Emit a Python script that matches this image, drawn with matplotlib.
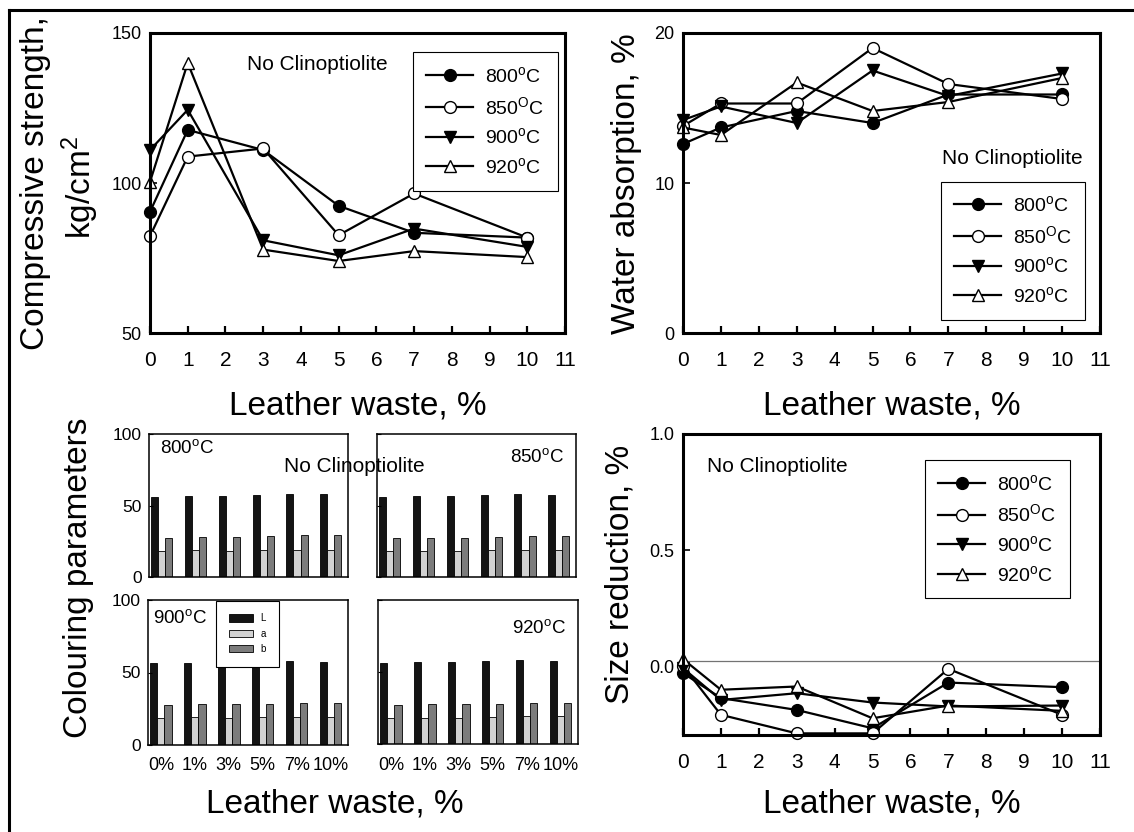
import matplotlib
matplotlib.use("Agg")
import matplotlib.pyplot as plt
import numpy as np
from matplotlib.lines import Line2D

plt.rcParams["font.family"] = ["Liberation Sans", "DejaVu Sans"]
plt.rcParams["mathtext.fontset"] = "custom"
plt.rcParams["mathtext.rm"] = "Liberation Sans"
plt.rcParams["mathtext.it"] = "Liberation Sans:italic"

W, H = 1134, 832

# ---------------------------------------------------------------------------
# Donnees
# ---------------------------------------------------------------------------
waste = [0, 1, 3, 5, 7, 10]
temp_labels = ["800$^{\\rm o}$C", "850$^{\\rm O}$C", "900$^{\\rm o}$C", "920$^{\\rm o}$C"]

strength_800 = [90.4, 117.7, 111.0, 92.4, 83.4, 81.8]
strength_850 = [82.3, 108.8, 111.5, 82.6, 96.5, 81.8]
strength_900 = [111.0, 124.4, 80.9, 75.9, 84.8, 78.7]
strength_920 = [100.4, 140.0, 77.8, 74.0, 77.3, 75.3]

absorb_800 = [12.6, 13.7, 14.8, 14.0, 15.9, 15.9]
absorb_850 = [13.8, 15.3, 15.3, 19.0, 16.6, 15.6]
absorb_900 = [14.2, 15.1, 14.0, 17.5, 15.8, 17.3]
absorb_920 = [13.7, 13.2, 16.7, 14.8, 15.4, 17.0]

shrink_800 = [-0.03, -0.138, -0.189, -0.268, -0.071, -0.091]
shrink_850 = [0.0, -0.21, -0.29, -0.29, -0.012, -0.21]
shrink_900 = [-0.009, -0.146, -0.117, -0.157, -0.174, -0.17]
shrink_920 = [0.03, -0.102, -0.088, -0.225, -0.17, -0.193]
zero_line = 0.02

bar_ticks = ["0%", "1%", "3%", "5%", "7%", "10%"]
bar_temps = ["800$^{\\rm o}$C", "850$^{\\rm o}$C", "900$^{\\rm o}$C", "920$^{\\rm o}$C"]
L_800 = [55.8, 56.7, 56.5, 57.2, 57.9, 57.7]
a_800 = [17.9, 18.6, 17.9, 18.6, 19.1, 19.1]
b_800 = [27.2, 27.9, 27.9, 28.4, 29.1, 29.1]
L_850 = [56.1, 56.8, 56.5, 57.2, 57.9, 57.5]
a_850 = [18.0, 18.5, 18.2, 18.9, 18.9, 18.9]
b_850 = [27.1, 27.6, 27.6, 28.0, 28.7, 28.5]
L_900 = [56.3, 56.8, 56.8, 57.2, 57.9, 57.5]
a_900 = [18.4, 19.1, 18.6, 19.3, 19.3, 19.3]
b_900 = [27.6, 28.0, 28.0, 28.5, 29.2, 29.0]
L_920 = [56.3, 57.0, 56.7, 57.4, 58.1, 57.9]
a_920 = [17.9, 18.4, 18.1, 18.8, 19.1, 19.1]
b_920 = [27.2, 27.7, 27.7, 28.1, 28.8, 28.6]

STYLES = [
    dict(marker="o", markerfacecolor="black"),
    dict(marker="o", markerfacecolor="white"),
    dict(marker="v", markerfacecolor="black"),
    dict(marker="^", markerfacecolor="white"),
]

fig = plt.figure(figsize=(W / 100, H / 100), dpi=100)


def px_axes(x0, y0, x1, y1):
    return fig.add_axes([x0 / W, 1 - y1 / H, (x1 - x0) / W, (y1 - y0) / H])


def ftext(x, y, s, **kw):
    fig.text(x / W, 1 - y / H, s, **kw)


def line_panel(box, series, ylim, yticks, yticklabels, leg_anchor):
    ax = px_axes(*box)
    for ys, lab, st in zip(series, temp_labels, STYLES):
        ax.plot(waste, ys, color="black", lw=1.6, markersize=8.5,
                markeredgecolor="black", markeredgewidth=1.0, label=lab,
                clip_on=False, **st)
    ax.set_xlim(0, 11)
    ax.set_ylim(*ylim)
    ax.set_xticks(range(12))
    ax.set_yticks(yticks)
    ax.set_yticklabels(yticklabels)
    for side in ("top", "right", "bottom", "left"):
        ax.spines[side].set_linewidth(2.2)
    ax.tick_params(axis="x", direction="in", length=5, width=1.6,
                   labelsize=15, pad=13)
    ax.tick_params(axis="y", direction="in", length=5, width=1.2,
                   labelsize=13, pad=6)
    leg = ax.legend(loc="upper right", bbox_to_anchor=leg_anchor, fontsize=14,
                    frameon=True, fancybox=False, edgecolor="black",
                    framealpha=1, handlelength=2.4, handletextpad=0.6,
                    labelspacing=0.5, borderpad=0.7, borderaxespad=0)
    leg.get_frame().set_linewidth(0.8)
    return ax


# ---------------------------------------------------------------------------
# Panneaux en lignes
# ---------------------------------------------------------------------------
line_panel((150, 33, 565, 333),
           [strength_800, strength_850, strength_900, strength_920],
           (50, 150), [50, 100, 150], ["50", "100", "150"], (0.982, 0.935))

line_panel((683, 33, 1100, 333),
           [absorb_800, absorb_850, absorb_900, absorb_920],
           (0, 20), [0, 10, 20], ["0", "10", "20"], (0.965, 0.505))

ax_sr = line_panel((683, 434, 1100, 735),
                   [shrink_800, shrink_850, shrink_900, shrink_920],
                   (-0.297, 1.0), [0, 0.5, 1.0], ["0.0", "0.5", "1.0"],
                   (0.927, 0.913))
ax_sr.axhline(zero_line, color="0.45", lw=0.9, zorder=0)

# ---------------------------------------------------------------------------
# Panneaux en barres (parametres de couleur)
# ---------------------------------------------------------------------------
bar_sets = [(L_800, a_800, b_800), (L_850, a_850, b_850),
            (L_900, a_900, b_900), (L_920, a_920, b_920)]
bar_boxes = [(149, 434, 348, 577), (377, 434, 576, 577),
             (148, 600, 348, 745), (378, 600, 578, 744)]
bar_colors = ["#141414", "#d2d2d2", "#7c7c7c"]
width = 0.21
pos = np.arange(len(bar_ticks))
bar_axes = []
for k, (vals, box) in enumerate(zip(bar_sets, bar_boxes)):
    ax = px_axes(*box)
    for j, (v, c, lab) in enumerate(zip(vals, bar_colors, ["L", "a", "b"])):
        ax.bar(pos + (j - 1) * width, v, width, color=c, edgecolor="black",
               linewidth=0.6, label=lab)
    ax.set_xlim(-0.38, 5.51)
    ax.set_ylim(0, 100)
    ax.set_yticks([0, 50, 100])
    ax.set_xticks(pos)
    for sp in ax.spines.values():
        sp.set_linewidth(1.1)
    ax.tick_params(axis="x", length=0, labelsize=13, pad=9)
    ax.tick_params(axis="y", direction="in", length=3, width=0.8,
                   labelsize=12.5, pad=5)
    if k % 2 == 1:
        ax.set_yticklabels([])
    if k < 2:
        ax.set_xticklabels([])
    else:
        ax.set_xticklabels(bar_ticks)
    bar_axes.append(ax)

leg = bar_axes[2].legend(loc="upper left", bbox_to_anchor=(0.34, 0.995),
                         fontsize=7, frameon=True, fancybox=False,
                         edgecolor="black", framealpha=1, handlelength=2.5,
                         handleheight=0.75, labelspacing=0.55,
                         handletextpad=0.8, borderpad=1.3, borderaxespad=0)
leg.get_frame().set_linewidth(0.8)

ftext(160, 448, bar_temps[0], fontsize=13.5, va="center", ha="left")
ftext(510, 457, bar_temps[1], fontsize=13.5, va="center", ha="left")
ftext(153, 618, bar_temps[2], fontsize=13.5, va="center", ha="left")
ftext(512, 628, bar_temps[3], fontsize=13.5, va="center", ha="left")

# ---------------------------------------------------------------------------
# Textes
# ---------------------------------------------------------------------------
for x, y in [(247, 65), (942, 158), (707, 467), (284, 466)]:
    ftext(x, y, "No Clinoptiolite", fontsize=15, va="center", ha="left")

for x, y in [(358, 406), (892, 406), (335, 804), (892, 804)]:
    ftext(x, y, "Leather waste, %", fontsize=24, va="center", ha="center")

ftext(36, 183, "Compressive strength,", fontsize=24, rotation=90,
      va="center", ha="center")
ftext(80, 187, "kg/cm$^2$", fontsize=24, rotation=90, va="center", ha="center")
ftext(626, 184, "Water absorption, %", fontsize=24, rotation=90,
      va="center", ha="center")
ftext(620, 574, "Size reduction, %", fontsize=24, rotation=90,
      va="center", ha="center")
ftext(79, 578, "Colouring parameters", fontsize=24, rotation=90,
      va="center", ha="center")

# Cadre partiel (haut et gauche)
fig.add_artist(Line2D([9 / W, 1], [1 - 10 / H, 1 - 10 / H], color="black", lw=2.2))
fig.add_artist(Line2D([9 / W, 9 / W], [0, 1 - 10 / H], color="black", lw=2.2))

fig.savefig("out.png", dpi=100)
